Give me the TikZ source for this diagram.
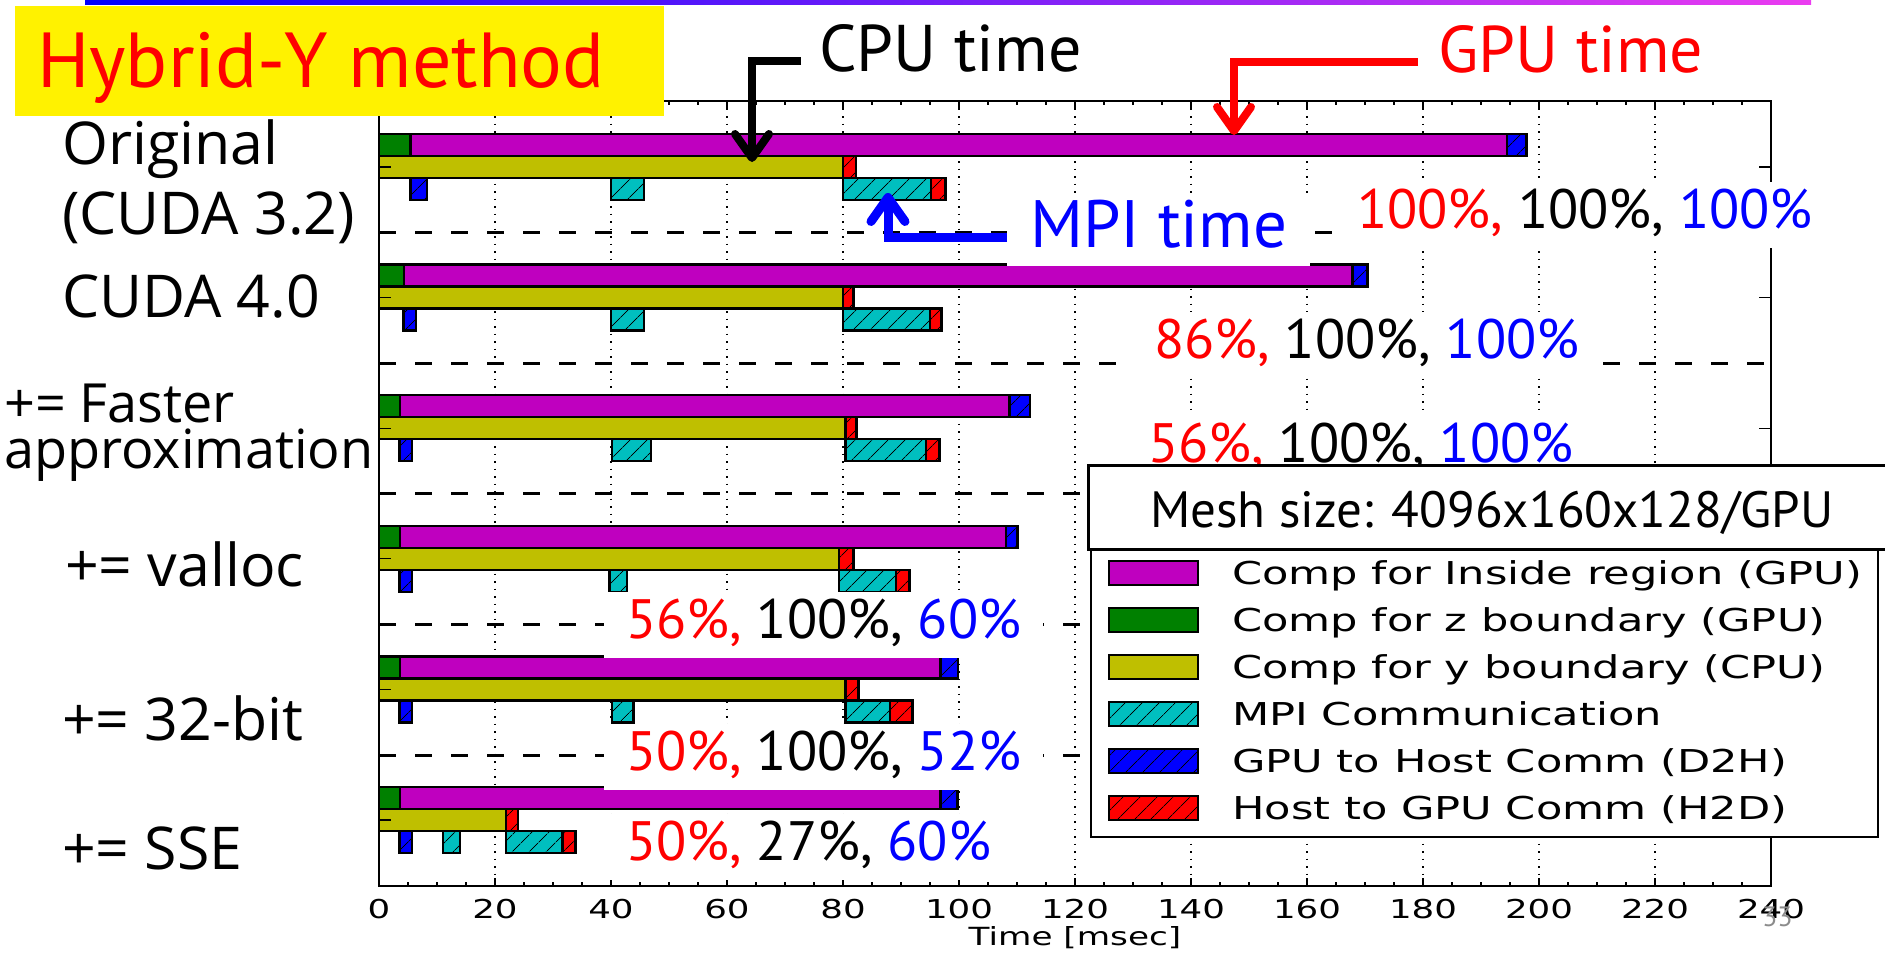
\documentclass[tikz,border=0pt]{standalone}
\usepackage{fontspec}
\setmainfont{PT Sans}
\newfontfamily\labelfont{Open Sans}
\newfontfamily\plotfont[FakeStretch=1.37]{DejaVu Sans}
\usetikzlibrary{arrows.meta,patterns.meta}
\definecolor{mmag}{rgb}{0.75,0,0.75}
\definecolor{mgreen}{rgb}{0,0.5,0}
\definecolor{molive}{rgb}{0.75,0.75,0}
\definecolor{mcyan}{rgb}{0,0.75,0.75}
\definecolor{barend}{RGB}{235,60,240}
\tikzset{
  bar/.style={draw=black,line width=2.5pt},
  hatch/.style={postaction={pattern={Lines[angle=45,distance=13pt,line width=0.9pt]},pattern color=black}},
  nohatch/.style={},
  gridline/.style={line width=1.3pt,dash pattern=on 1.5pt off 6pt},
  sepline/.style={line width=3pt,dash pattern=on 17pt off 19pt},
  pct/.style={fill=white,inner xsep=22pt,inner ysep=4pt,text height=42pt,text depth=16pt,anchor=base west,font=\fontsize{55.5}{60}\selectfont},
  rowlabel/.style={anchor=base west,inner sep=0pt,font=\labelfont\fontsize{59}{62}\selectfont},
  pointer/.style={line width=8pt,-{Straight Barb[length=24pt,width=34pt,round]}},
  ticklabel/.style={anchor=base,inner sep=0pt,font=\plotfont\fontsize{26}{30}\selectfont},
}

\begin{document}
\begin{tikzpicture}[x=1pt,y=-1pt]
    \clip (0,0) rectangle (1885,954);
    \shade[left color=blue,right color=barend] (85,0) rectangle (1811,4.5);
    \foreach \t in {20,40,...,220}
        \draw[gridline] ({379+5.8*\t},101) -- ({379+5.8*\t},886);
    \foreach \s in {232.7,363.3,493.9,624.5,755.1}
        \draw[sepline] (379,\s) -- (1771,\s);
    \begin{scope}[shift={(379pt,0)},x=5.8pt]
    \foreach \Y/\g/\m/\b/\yl/\r/\da/\db/\ca/\cb/\cc/\cd/\re in {
        134/5.4/194.5/197.8/80/82.2/5.4/8.3/40/45.7/80/95.2/97.7,
        264.6/4.3/167.8/170.4/80/81.8/4.2/6.4/40/45.7/80/95/97,
        395.2/3.6/108.7/112.2/80.4/82.3/3.5/5.7/40.2/46.9/80.4/94.3/96.6,
        525.8/3.6/108.1/110.1/79.3/81.8/3.5/5.7/39.7/42.8/79.3/89.1/91.5,
        656.4/3.6/96.8/99.8/80.4/82.7/3.5/5.7/40.2/43.9/80.4/88.1/92,
        787/3.6/96.8/99.7/21.9/24/3.5/5.7/11/14/21.9/31.6/33.9} {
        \draw[bar,fill=mgreen] (0,\Y) rectangle (\g,\Y+22);
        \draw[bar,fill=mmag] (\g,\Y) rectangle (\m,\Y+22);
        \draw[bar,fill=blue,hatch] (\m,\Y) rectangle (\b,\Y+22);
        \draw[bar,fill=molive] (0,\Y+22) rectangle (\yl,\Y+44);
        \draw[bar,fill=red,hatch] (\yl,\Y+22) rectangle (\r,\Y+44);
        \draw[bar,fill=blue,hatch] (\da,\Y+44) rectangle (\db,\Y+66);
        \draw[bar,fill=mcyan,hatch] (\ca,\Y+44) rectangle (\cb,\Y+66);
        \draw[bar,fill=mcyan,hatch] (\cc,\Y+44) rectangle (\cd,\Y+66);
        \draw[bar,fill=red,hatch] (\cd,\Y+44) rectangle (\re,\Y+66);
    }
    \end{scope}
    \draw[line width=2.5pt] (379,101) rectangle (1771,886);
    \foreach \Y in {134,264.6,395.2,525.8,656.4,787} {
        \draw[line width=1.2pt] (379,\Y+33) -- ++(12,0);
        \draw[line width=1.2pt] (1771,\Y+33) -- ++(-12,0);
    }
    \foreach \t in {5,10,...,235} {
        \draw[line width=1.2pt] ({379+5.8*\t},886) -- ++(0,-4);
        \draw[line width=1.2pt] ({379+5.8*\t},101) -- ++(0,4);
    }
    \foreach \t in {20,40,...,220} {
        \draw[line width=1.2pt] ({379+5.8*\t},886) -- ++(0,-8);
        \draw[line width=1.2pt] ({379+5.8*\t},101) -- ++(0,8);
    }
    \foreach \t in {0,20,...,240}
        \node[ticklabel] (tick\t) at ({379+5.8*\t},918) {\t};
    \node[anchor=base,inner sep=0pt,font=\plotfont\fontsize{25}{30}\selectfont] (xlabel) at (1075,945) {Time [msec]};
    % percentages: GPU, CPU, MPI
    \node[pct] (p1) at (1335,228) {{\color{red}100\%,} 100\%, {\color{blue}100\%}};
    \node[pct] (p2) at (1132,358) {{\color{red}86\%,} 100\%, {\color{blue}100\%}};
    \node[pct] (p3) at (1126,462) {{\color{red}56\%,} 100\%, {\color{blue}100\%}};
    \node[pct] (p4) at (604,638) {{\color{red}56\%,} 100\%, {\color{blue}60\%}};
    \node[pct] (p5) at (604,770) {{\color{red}50\%,} 100\%, {\color{blue}52\%}};
    \node[pct] (p6) at (604,860) {{\color{red}50\%,} 27\%, {\color{blue}60\%}};
    \node[pct,inner xsep=23pt,text height=48pt,text depth=15pt,text=blue,font=\fontsize{67}{70}\selectfont] (mpi) at (1007,247) {MPI time};
    % legend
    \draw[line width=2pt,fill=white] (1091,549) rectangle (1878,837);
    \draw[line width=3pt,fill=white] (1088,465) rectangle (1895,549);
    \node[anchor=base west,inner sep=0pt,font=\fontsize{51}{54}\selectfont] (mesh) at (1150,527) {Mesh size: 4096x160x128/GPU};
    \foreach \c/\h/\txt [count=\i] in {mmag/nohatch/Comp for Inside region (GPU),
        mgreen/nohatch/Comp for z boundary (GPU),
        molive/nohatch/Comp for y boundary (CPU),
        mcyan/hatch/MPI Communication,
        blue/hatch/GPU to Host Comm (D2H),
        red/hatch/Host to GPU Comm (H2D)} {
        \draw[bar,fill=\c,\h] (1109,{561+47*(\i-1)}) rectangle (1198,{585+47*(\i-1)});
        \node[anchor=base west,inner sep=0pt,font=\plotfont\fontsize{31.5}{34}\selectfont] (leg\i) at (1232,{584+47*(\i-1)}) {\txt};
    }
    % title and row labels
    \fill[yellow] (15,6) rectangle (664,116);
    \node[anchor=base west,inner sep=0pt,text=red,font=\fontsize{78}{80}\selectfont] (title) at (37,87) {Hybrid-Y method};
    \node[rowlabel] (orig) at (62,164) {Original};
    \node[rowlabel] (cuda32) at (62,234) {(CUDA 3.2)};
    \node[rowlabel] (cuda40) at (62,317) {CUDA 4.0};
    \node[rowlabel,align=left,font=\labelfont\fontsize{54}{46}\selectfont] (faster) at (4,468) {+= Faster\\approximation};
    \node[rowlabel] (valloc) at (65,586) {+= valloc};
    \node[rowlabel] (bit32) at (62,740) {+= 32-bit};
    \node[rowlabel] (sse) at (62,869) {+= SSE};
    % call-outs
    \node[anchor=base west,inner sep=0pt,font=\fontsize{66}{68}\selectfont] (cpu) at (819,71) {CPU time};
    \node[anchor=base west,inner sep=0pt,text=red,font=\fontsize{66}{68}\selectfont] (gpu) at (1438,72) {GPU time};
    \coordinate (cputip) at (752,162);
    \coordinate (gputip) at (1234,135);
    \coordinate (mpitip) at (888,193);
    \draw[pointer] (801,61) -- (752,61) -- (cputip);
    \draw[pointer,red] (1418,62) -- (1234,62) -- (gputip);
    \draw[pointer,blue,line width=9pt] (mpi.base west) ++(0,-10) -- (888,237) -- (mpitip);
    \node[anchor=base west,inner sep=0pt,text=black!45,font=\fontsize{28}{30}\selectfont] (pagenum) at (1762,926) {33};
\end{tikzpicture}
\end{document}
